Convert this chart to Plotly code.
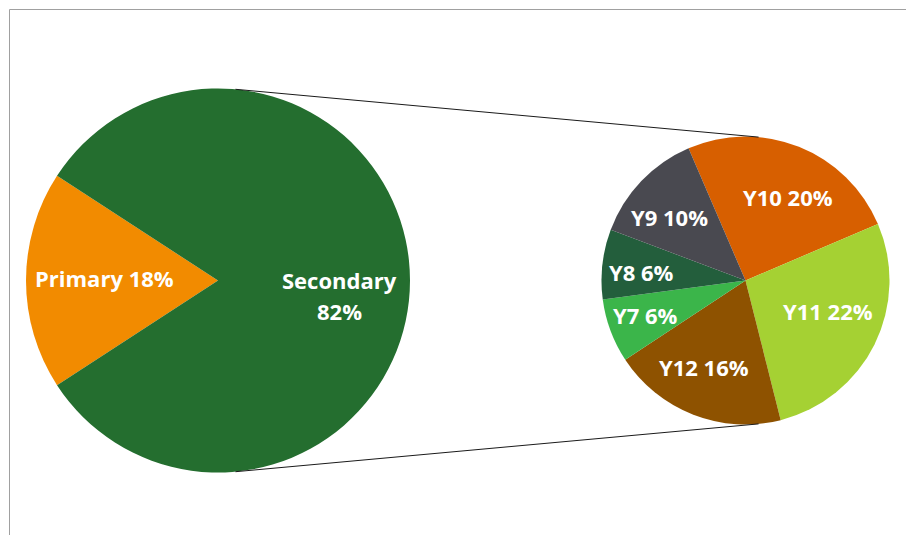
import math
import plotly.graph_objects as go

# ---------------- data ----------------
main_labels = ["Primary", "Secondary"]
main_values = [18.35, 81.65]

sub_labels = ["Y10", "Y11", "Y12", "Y7", "Y8", "Y9"]
sub_values = [20.45, 22.45, 16.05, 5.85, 6.40, 10.45]

# ---------------- style ----------------
main_colors = ["#F28B00", "#246E2F"]
sub_colors = ["#D75F00", "#A5D133", "#8E5200", "#3BB54A", "#235E3C", "#494950"]

W, H = 906, 535
FONT = dict(family="Open Sans", size=22, color="white", weight=700)
TEXT_DY = -2.5      # pixel nudge so the glyphs sit where the reference's do
LINE_GAP = 31.5     # pixel distance between lines of a two-line label

# geometry in pixels (centre x, centre y, radius)
MAIN_GEO = (218.0, 280.5, 192.0)
SUB_GEO = (745.5, 280.5, 144.0)
SUB_ROTATION = -23.3
# label placement: (radial fraction, angular offset in degrees from slice bisector)
MAIN_LABEL_POS = [(0.589, 0.0), (0.64, 8.2)]
SUB_LABEL_POS = [(0.633, 6.0), (0.616, -4.8), (0.68, 3.8), (0.74, 0.0), (0.725, -3.2), (0.674, -5.0)]


def px_to_paper(x, y):
    return x / W, 1 - y / H


def domain(geo):
    cx, cy, r = geo
    x0, y1 = px_to_paper(cx - r, cy - r)
    x1, y0 = px_to_paper(cx + r, cy + r)
    return dict(x=[x0, x1], y=[y0, y1])


main_rotation = 270 - 360 * main_values[0] / sum(main_values) / 2

fig = go.Figure()
fig.add_trace(go.Pie(
    labels=main_labels, values=main_values, sort=False, direction="clockwise",
    rotation=main_rotation, domain=domain(MAIN_GEO),
    marker=dict(colors=main_colors, line=dict(width=0)),
    textinfo="none", hoverinfo="label+percent", showlegend=False,
))
fig.add_trace(go.Pie(
    labels=sub_labels, values=sub_values, sort=False, direction="clockwise",
    rotation=SUB_ROTATION, domain=domain(SUB_GEO),
    marker=dict(colors=sub_colors, line=dict(width=0)),
    textinfo="none", hoverinfo="label+value", showlegend=False,
))


def label_annotations(labels, values, geo, rotation, positions, multiline=None):
    cx, cy, r = geo
    total = sum(values)
    ang = rotation
    anns = []
    for i, (lab, v) in enumerate(zip(labels, values)):
        span = 360 * v / total
        bis = ang + span / 2 + positions[i][1]
        ang += span
        f = positions[i][0]
        x = cx + f * r * math.sin(math.radians(bis))
        y = cy - f * r * math.cos(math.radians(bis)) + TEXT_DY
        pct = f"{v:.0f}%"
        if multiline and multiline[i]:
            lines = [(lab, y - LINE_GAP / 2), (pct, y + LINE_GAP / 2)]
        else:
            lines = [(f"{lab} {pct}", y)]
        for txt, yy in lines:
            px, py = px_to_paper(x, yy)
            anns.append(dict(
                x=px, y=py, xref="paper", yref="paper", showarrow=False,
                text=txt, font=FONT, xanchor="center", yanchor="middle", align="center",
            ))
    return anns


anns = label_annotations(main_labels, main_values, MAIN_GEO,
                         main_rotation, MAIN_LABEL_POS, multiline=[False, True])
anns += label_annotations(sub_labels, sub_values, SUB_GEO,
                          SUB_ROTATION, SUB_LABEL_POS)

# connector lines: external common tangents of the two circles
(c1x, c1y, R1), (c2x, c2y, R2) = MAIN_GEO, SUB_GEO
d = math.hypot(c2x - c1x, c2y - c1y)
phi = math.asin((R1 - R2) / d)
shapes = []
for sgn in (1, -1):
    nx, ny = math.sin(phi), -sgn * math.cos(phi)
    x0, y0 = px_to_paper(c1x + R1 * nx, c1y + R1 * ny)
    x1, y1 = px_to_paper(c2x + R2 * nx, c2y + R2 * ny)
    shapes.append(dict(type="line", xref="paper", yref="paper", x0=x0, y0=y0, x1=x1, y1=y1,
                       line=dict(color="#1A1A1A", width=1)))

# chart-area border (partially visible)
bx, by = px_to_paper(9.5, 9.5)
shapes.append(dict(type="line", xref="paper", yref="paper", x0=bx, y0=by, x1=1, y1=by,
                   line=dict(color="#A0A0A0", width=1)))
shapes.append(dict(type="line", xref="paper", yref="paper", x0=bx, y0=0, x1=bx, y1=by,
                   line=dict(color="#A0A0A0", width=1)))

fig.update_layout(
    width=W, height=H, autosize=False,
    margin=dict(l=0, r=0, t=0, b=0),
    paper_bgcolor="white", plot_bgcolor="white",
    annotations=anns, shapes=shapes,
)

fig.write_html("out.html", config={"displayModeBar": False},
               post_script="document.body.style.margin='0px';document.body.style.overflow='hidden';")
